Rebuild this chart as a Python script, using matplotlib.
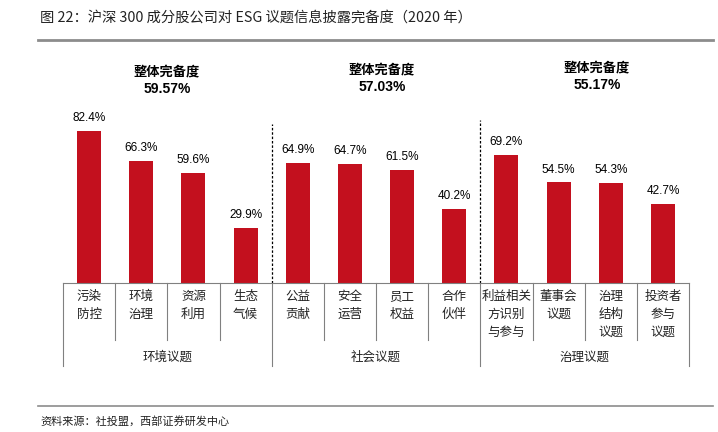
import matplotlib.pyplot as plt
from matplotlib.transforms import blended_transform_factory

plt.rcParams['font.family'] = ['Noto Sans CJK SC', 'DejaVu Sans']

categories = ["污染\n防控", "环境\n治理", "资源\n利用", "生态\n气候",
              "公益\n贡献", "安全\n运营", "员工\n权益", "合作\n伙伴",
              "利益相关\n方识别\n与参与", "董事会\n议题", "治理\n结构\n议题", "投资者\n参与\n议题"]
values = [82.4, 66.3, 59.6, 29.9, 64.9, 64.7, 61.5, 40.2, 69.2, 54.5, 54.3, 42.7]
groups = ["环境议题", "社会议题", "治理议题"]
group_scores = ["59.57%", "57.03%", "55.17%"]

W, H = 718, 432
fig = plt.figure(figsize=(W / 100, H / 100), dpi=100)

# axes box in pixels: x 63..689, baseline at y=283
x0, x1, base, top = 63, 689, 283, 50
ax = fig.add_axes([x0 / W, (H - base) / H, (x1 - x0) / W, (base - top) / H])
ppu = 1.845  # pixels per percent
ax.set_ylim(0, (base - top) / ppu)
ax.set_xlim(-0.5, len(values) - 0.5)

red = "#C3101E"
x = list(range(len(values)))
ax.bar(x, values, width=0.46, color=red)
for xi, v in zip(x, values):
    ax.annotate(f"{v:.1f}%", (xi, v), xytext=(0, 5), textcoords="offset points",
                ha="center", va="bottom", fontsize=8.5, family="Liberation Sans")

for s in ["top", "left", "right"]:
    ax.spines[s].set_visible(False)
ax.spines["bottom"].set_color("#808080")
ax.set_xticks([])
ax.set_yticks([])

def fy(py):
    return 1 - py / H

tr = blended_transform_factory(ax.transData, fig.transFigure)

# dashed group dividers above the axis
ax.vlines([3.5], 0, (base - 124) / ppu, colors="black", linestyles=(0, (2, 1.5)), lw=0.9)
ax.vlines([7.5], 0, (base - 120) / ppu, colors="black", linestyles=(0, (2, 1.5)), lw=0.9)

# separators below the axis
for i in range(len(values) + 1):
    xs = i - 0.5
    bottom = 366 if i % 4 == 0 else 340
    ax.plot([xs, xs], [fy(base), fy(bottom)], transform=tr, color="#808080",
            lw=0.8, clip_on=False)

for xi, c in zip(x, categories):
    ax.text(xi, fy(290), c, transform=tr, ha="center", va="top", fontsize=9,
            linespacing=1.5, color="#222222")

for gi, g in enumerate(groups):
    ax.text(gi * 4 + 1.5, fy(357), g, transform=tr, ha="center",
            va="center", fontsize=9, color="#222222")

hdr_x = [167, 382, 597]
hdr_y = [72, 70, 68]
for hx, hy, s in zip(hdr_x, hdr_y, group_scores):
    fig.text(hx / W, fy(hy), "整体完备度", ha="center", va="center",
             fontsize=9.5, fontweight="bold")
    fig.text(hx / W, fy(hy + 17), s, ha="center", va="center",
             fontsize=10, fontweight="bold", family="Liberation Sans")

# title and source
fig.text(40 / W, fy(18), "图 22：沪深 300 成分股公司对 ESG 议题信息披露完备度（2020 年）",
         ha="left", va="center", fontsize=10.3, color="#222222")
fig.add_artist(plt.Line2D([38 / W, 713 / W], [fy(40), fy(40)], color="#8c8c8c", lw=2))
fig.add_artist(plt.Line2D([38 / W, 713 / W], [fy(406), fy(406)], color="#8c8c8c", lw=1.2))
fig.text(40 / W, fy(421), "资料来源：社投盟，西部证券研发中心", ha="left", va="center",
         fontsize=8, color="#222222")

fig.savefig("out.png", dpi=100)
